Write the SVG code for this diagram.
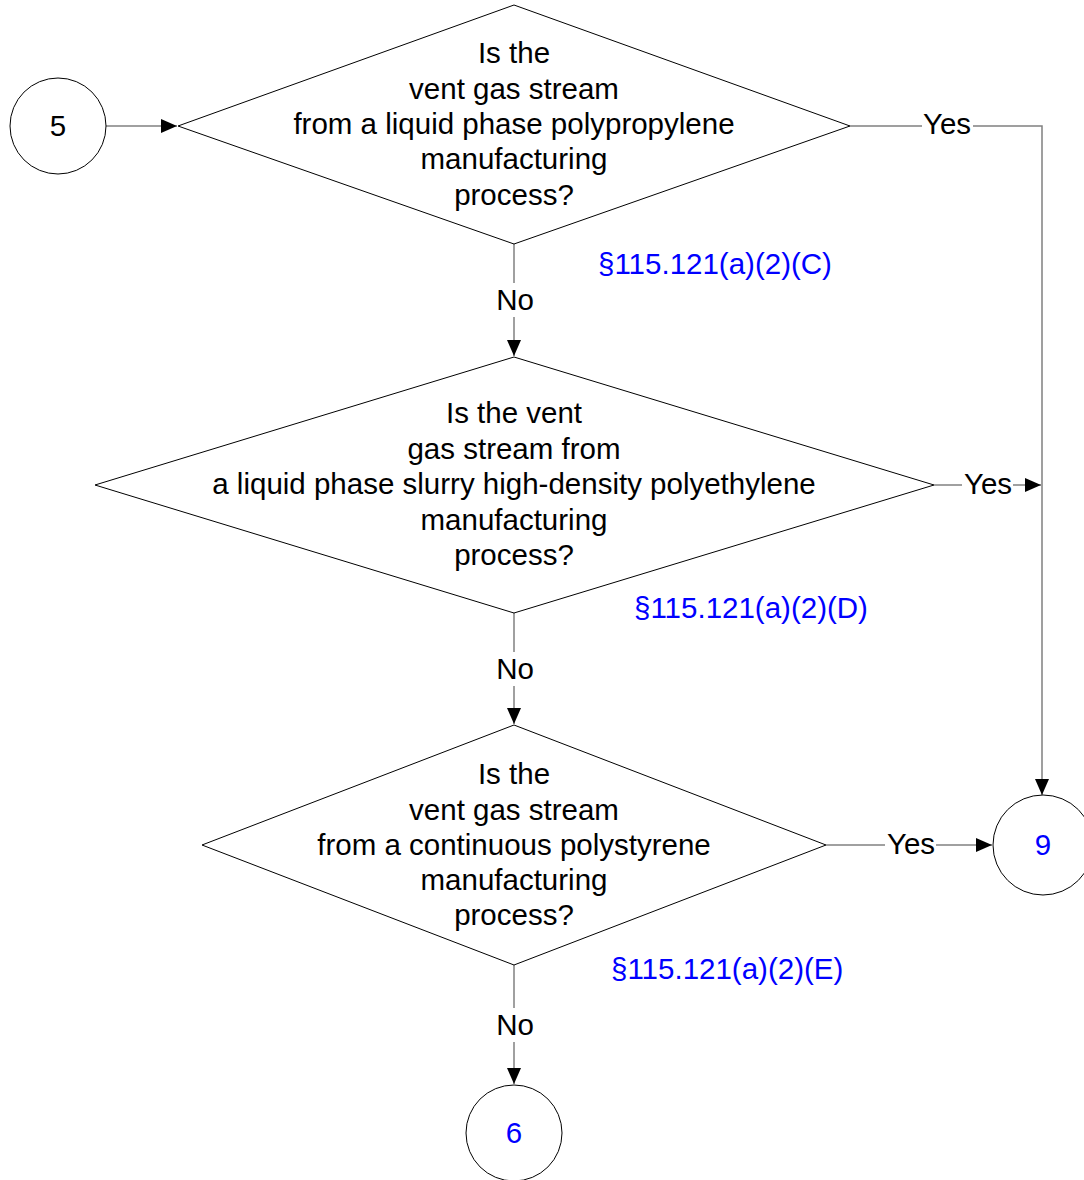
<svg xmlns="http://www.w3.org/2000/svg" width="1084" height="1180" viewBox="0 0 1084 1180">
<style>
.shape{fill:#fff;stroke:#000;stroke-width:1}
.t{font-family:"Liberation Sans",Arial,sans-serif;font-size:29.5px;fill:#000;text-anchor:middle}
.b{fill:#0000ff}
.ref{font-family:"Liberation Sans",Arial,sans-serif;font-size:29.5px;fill:#0000ff}
.c{stroke:#808080;stroke-width:1.5;fill:none}
.lbl{fill:#fff;stroke:none}
</style>
<defs>
<marker id="ah" markerWidth="16" markerHeight="14" refX="16" refY="7" orient="auto" markerUnits="userSpaceOnUse">
<path d="M0,0 L16,7 L0,14 Z" fill="#000"/>
</marker>
</defs>
<rect width="1084" height="1180" fill="#fff"/>
<g id="connectors">
<path class="c" d="M106,126 L177,126" marker-end="url(#ah)"/>
<path class="c" d="M514,244 L514,356" marker-end="url(#ah)"/>
<path class="c" d="M514,613 L514,724" marker-end="url(#ah)"/>
<path class="c" d="M514,965 L514,1084" marker-end="url(#ah)"/>
<path class="c" d="M850,126 L1042,126 L1042,795" marker-end="url(#ah)"/>
<path class="c" d="M934,485 L1041,485" marker-end="url(#ah)"/>
<path class="c" d="M826,845 L992,845" marker-end="url(#ah)"/>
<rect class="lbl" x="922" y="108" width="51" height="32"/>
<text class="t" x="947" y="134">Yes</text>
<rect class="lbl" x="962" y="467" width="51" height="32"/>
<text class="t" x="988" y="494">Yes</text>
<rect class="lbl" x="885" y="827" width="51" height="32"/>
<text class="t" x="911" y="854">Yes</text>
<rect class="lbl" x="494" y="283" width="42" height="34"/>
<text class="t" x="515" y="310">No</text>
<rect class="lbl" x="494" y="652" width="42" height="34"/>
<text class="t" x="515" y="679">No</text>
<rect class="lbl" x="494" y="1008" width="42" height="34"/>
<text class="t" x="515" y="1035">No</text>
</g>
<g id="n5">
<circle class="shape" cx="58" cy="126" r="48"/>
<text class="t" x="58" y="136">5</text>
</g>
<g id="d1">
<polygon class="shape" points="514,5 850,126 514,244 178,126"/>
<text class="t" x="514" y="63">Is the</text>
<text class="t" x="514" y="99">vent gas stream</text>
<text class="t" x="514" y="134">from a liquid phase polypropylene</text>
<text class="t" x="514" y="169">manufacturing</text>
<text class="t" x="514" y="205">process?</text>
<text class="ref" x="598" y="274">§115.121(a)(2)(C)</text>
</g>
<g id="d2">
<polygon class="shape" points="514,357 934,485 514,613 95,485"/>
<text class="t" x="514" y="423">Is the vent</text>
<text class="t" x="514" y="459">gas stream from</text>
<text class="t" x="514" y="494">a liquid phase slurry high-density polyethylene</text>
<text class="t" x="514" y="530">manufacturing</text>
<text class="t" x="514" y="565">process?</text>
<text class="ref" x="634" y="618">§115.121(a)(2)(D)</text>
</g>
<g id="d3">
<polygon class="shape" points="514,725 826,845 514,965 202,845"/>
<text class="t" x="514" y="784">Is the</text>
<text class="t" x="514" y="820">vent gas stream</text>
<text class="t" x="514" y="855">from a continuous polystyrene</text>
<text class="t" x="514" y="890">manufacturing</text>
<text class="t" x="514" y="925">process?</text>
<text class="ref" x="611" y="979">§115.121(a)(2)(E)</text>
</g>
<g id="n9">
<circle class="shape" cx="1043" cy="845" r="50"/>
<text class="t b" x="1043" y="855">9</text>
</g>
<g id="n6">
<circle class="shape" cx="514" cy="1133" r="48"/>
<text class="t b" x="514" y="1143">6</text>
</g>
</svg>
